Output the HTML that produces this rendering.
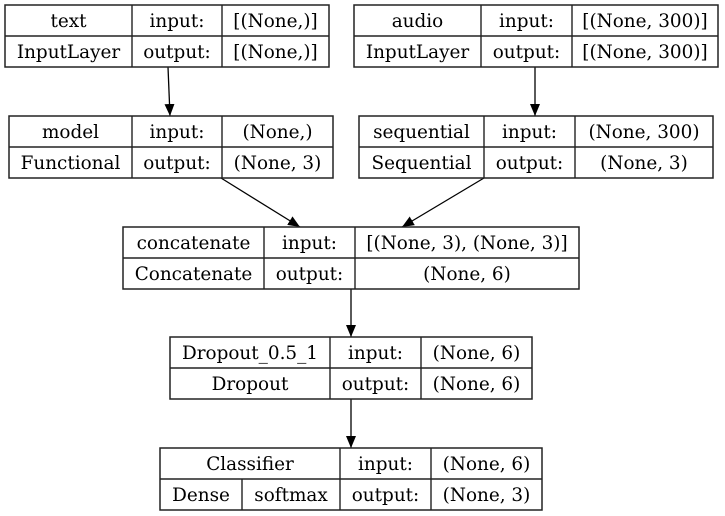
<!DOCTYPE html>
<html><head><meta charset="utf-8"><style>
html,body{margin:0;padding:0;background:#fff;width:725px;height:516px;overflow:hidden}
text{font-family:"DejaVu Serif","Liberation Serif",serif;font-size:18.4px;fill:#000}
</style></head><body>
<svg width="725" height="516" viewBox="0 0 725 516">
<defs><marker id="ah" markerWidth="12" markerHeight="12" refX="12" refY="6" orient="auto" markerUnits="userSpaceOnUse"><path d="M0,1 L12,6 L0,11 z" fill="#000"/></marker></defs>
<g stroke="#000" stroke-width="1.3" fill="none">
<line x1="168" y1="67" x2="170" y2="116" marker-end="url(#ah)"/>
<line x1="535" y1="67" x2="535" y2="116" marker-end="url(#ah)"/>
<line x1="221" y1="178" x2="300" y2="227" marker-end="url(#ah)"/>
<line x1="484" y1="178" x2="402" y2="227" marker-end="url(#ah)"/>
<line x1="351" y1="289" x2="351" y2="337" marker-end="url(#ah)"/>
<line x1="351" y1="399" x2="351" y2="448" marker-end="url(#ah)"/>
</g>
<g id="nodes"></g>
</svg>
<script>
const ns="http://www.w3.org/2000/svg";
const g=document.getElementById('nodes');
const nodes=[
 {n:'text-node',x:5,y:5,w:324,d:[132,222],t:[['text','input:','[(None,)]'],['InputLayer','output:','[(None,)]']]},
 {n:'audio-node',x:354,y:5,w:364,d:[481,572],t:[['audio','input:','[(None, 300)]'],['InputLayer','output:','[(None, 300)]']]},
 {n:'model-node',x:9,y:116,w:324,d:[132,222],t:[['model','input:','(None,)'],['Functional','output:','(None, 3)']]},
 {n:'sequential-node',x:359,y:116,w:354,d:[484,575],t:[['sequential','input:','(None, 300)'],['Sequential','output:','(None, 3)']]},
 {n:'concatenate-node',x:123,y:227,w:456,d:[264,355],t:[['concatenate','input:','[(None, 3), (None, 3)]'],['Concatenate','output:','(None, 6)']]},
 {n:'dropout-node',x:170,y:337,w:362,d:[330,421],t:[['Dropout_0.5_1','input:','(None, 6)'],['Dropout','output:','(None, 6)']]},
 {n:'classifier-node',x:160,y:448,w:382,d:[340,431],split:242,t:[['Classifier','input:','(None, 6)'],['Dense|softmax','output:','(None, 3)']]}
];
function el(tag,a,p){const e=document.createElementNS(ns,tag);for(const k in a)e.setAttribute(k,a[k]);p.appendChild(e);return e;}
nodes.forEach(nd=>{
 const grp=el('g',{},g);
 
 
 const h=62,mid=nd.y+31;
 el('rect',{x:nd.x,y:nd.y,width:nd.w,height:h,fill:'none',stroke:'#222','stroke-width':1.5},grp);
 el('line',{x1:nd.x,y1:mid,x2:nd.x+nd.w,y2:mid,stroke:'#222','stroke-width':1.4},grp);
 nd.d.forEach(dx=>el('line',{x1:dx,y1:nd.y,x2:dx,y2:nd.y+h,stroke:'#222','stroke-width':1.4},grp));
 const cols=[[nd.x,nd.d[0]],[nd.d[0],nd.d[1]],[nd.d[1],nd.x+nd.w]];
 nd.t.forEach((row,ri)=>{
  const ty=nd.y+ri*31+22;
  row.forEach((s,ci)=>{
   if(ci===0&&nd.split&&ri===1){
    el('line',{x1:nd.split,y1:mid,x2:nd.split,y2:nd.y+h,stroke:'#222','stroke-width':1.4},grp);
    const [a,b]=s.split('|');
    const t1=el('text',{x:(nd.x+nd.split)/2,y:ty,'text-anchor':'middle'},grp);t1.textContent=a;
    
    
    const t2=el('text',{x:(nd.split+nd.d[0])/2,y:ty,'text-anchor':'middle'},grp);t2.textContent=b;
    
    
    return;
   }
   const t=el('text',{x:(cols[ci][0]+cols[ci][1])/2,y:ty,'text-anchor':'middle'},grp);
   t.textContent=s;
   
   
  });
 });
});
</script>
</body></html>
